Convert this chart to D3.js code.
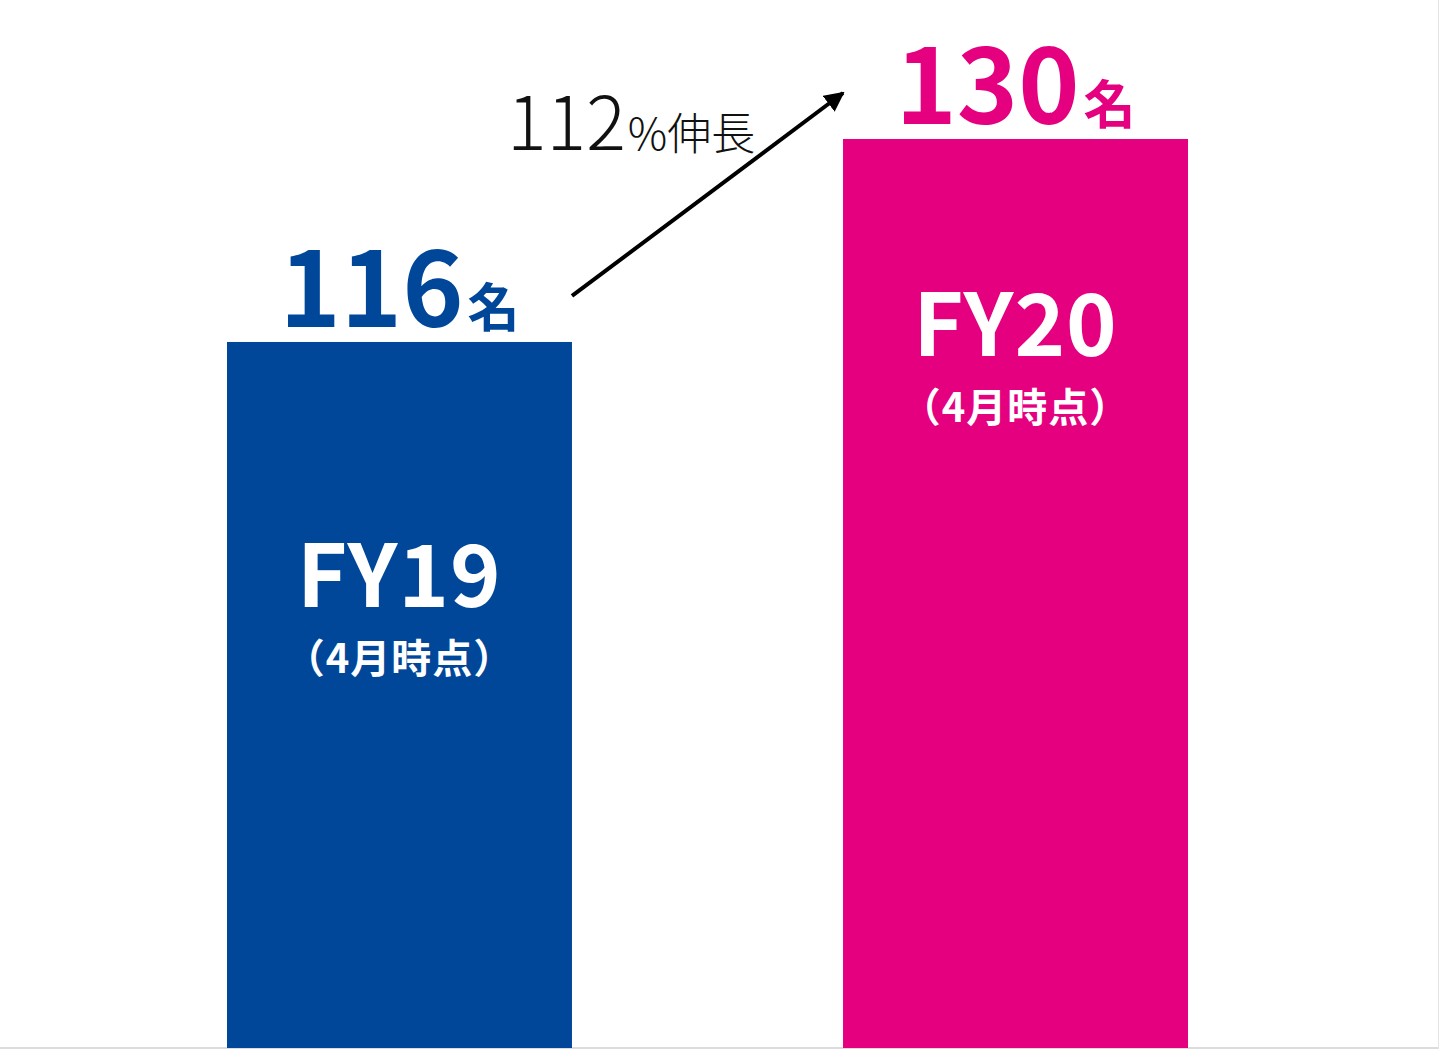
<!DOCTYPE html>
<html>
<head>
<meta charset="utf-8">
<script src="https://cdn.jsdelivr.net/npm/d3@7"></script>
<style>
  html, body { margin: 0; padding: 0; background: #fff; }
  svg { display: block; }
  text { font-family: "Noto Sans CJK JP", "Noto Sans", sans-serif; }
</style>
</head>
<body>
<svg id="chart" width="1440" height="1049"></svg>
<script>
var categories = ['FY19', 'FY20'];
var values = [116, 130];
var subLabels = ['（4月時点）', '（4月時点）'];
var unit = '名';
var growthLabel = ['112', '%伸長'];
var colors = ['#00479A', '#E4007F'];

var svg = d3.select('#chart');
var W = 1440, H = 1049;
// where the FY label sits below each bar top
var labelDrop = [265, 217];

var x = d3.scaleBand()
	.domain(categories)
	.range([227, 1188])
	.paddingInner(0.44)
	.paddingOuter(0);

// axis does not start at zero in the original
var y = d3.scaleLinear()
	.domain([67.3, 130])
	.range([1048, 139]);

// baseline and frame edge
svg.append('line')
	.attr('x1', 0).attr('x2', W - 2)
	.attr('y1', 1048).attr('y2', 1048)
	.attr('stroke', '#d0d0d0').attr('stroke-width', 1.5);
svg.append('line')
	.attr('x1', W - 1.5).attr('x2', W - 1.5)
	.attr('y1', 0).attr('y2', 1049)
	.attr('stroke', '#e4e4e4').attr('stroke-width', 1);

var bars = svg.selectAll('.bar')
	.data(categories)
	.enter().append('g')
	.attr('class', 'bar');

bars.append('rect')
	.attr('x', d => x(d))
	.attr('width', x.bandwidth())
	.attr('y', (d, i) => y(values[i]))
	.attr('height', (d, i) => y.range()[0] - y(values[i]))
	.attr('fill', (d, i) => colors[i]);

// value labels above bars
var val = bars.append('text')
	.attr('x', d => x(d) + x.bandwidth() / 2)
	.attr('y', (d, i) => y(values[i]) - 15)
	.attr('text-anchor', 'middle')
	.attr('fill', (d, i) => colors[i])
	.attr('font-weight', 700);
val.append('tspan')
	.attr('font-size', 104)
	.text((d, i) => values[i]);
val.append('tspan')
	.attr('font-size', 52)
	.attr('dx', 4)
	.text(unit);

// category labels inside bars
bars.append('text')
	.attr('x', d => x(d) + x.bandwidth() / 2)
	.attr('y', (d, i) => y(values[i]) + labelDrop[i])
	.attr('text-anchor', 'middle')
	.attr('fill', '#fff')
	.attr('font-weight', 700)
	.attr('font-size', 86)
	.attr('letter-spacing', 1)
	.text(d => d);
bars.append('text')
	.attr('x', d => x(d) + x.bandwidth() / 2)
	.attr('y', (d, i) => y(values[i]) + labelDrop[i] + 66)
	.attr('text-anchor', 'middle')
	.attr('fill', '#fff')
	.attr('font-weight', 700)
	.attr('font-size', 40)
	.attr('letter-spacing', 1)
	.text((d, i) => subLabels[i]);

// growth arrow
svg.append('defs').append('marker')
	.attr('id', 'head')
	.attr('viewBox', '0 0 10 10')
	.attr('refX', 9).attr('refY', 5)
	.attr('markerWidth', 5).attr('markerHeight', 5)
	.attr('orient', 'auto')
	.append('path')
	.attr('d', 'M0,0 L10,5 L0,10 z')
	.attr('fill', '#000');

var x0 = x(categories[0]) + x.bandwidth();
var x1 = x(categories[1]);
svg.append('line')
	.attr('x1', x0).attr('y1', y(values[0]) - 46)
	.attr('x2', x1).attr('y2', y(values[1]) - 46)
	.attr('stroke', '#000')
	.attr('stroke-width', 4)
	.attr('marker-end', 'url(#head)');

var g = svg.append('text')
	.attr('x', 507).attr('y', 150)
	.attr('fill', '#111')
	.attr('font-weight', 300);
g.append('tspan').attr('font-size', 74).text(growthLabel[0]);
g.append('tspan').attr('font-size', 44).attr('dx', 2).text(growthLabel[1]);
</script>
</body>
</html>
